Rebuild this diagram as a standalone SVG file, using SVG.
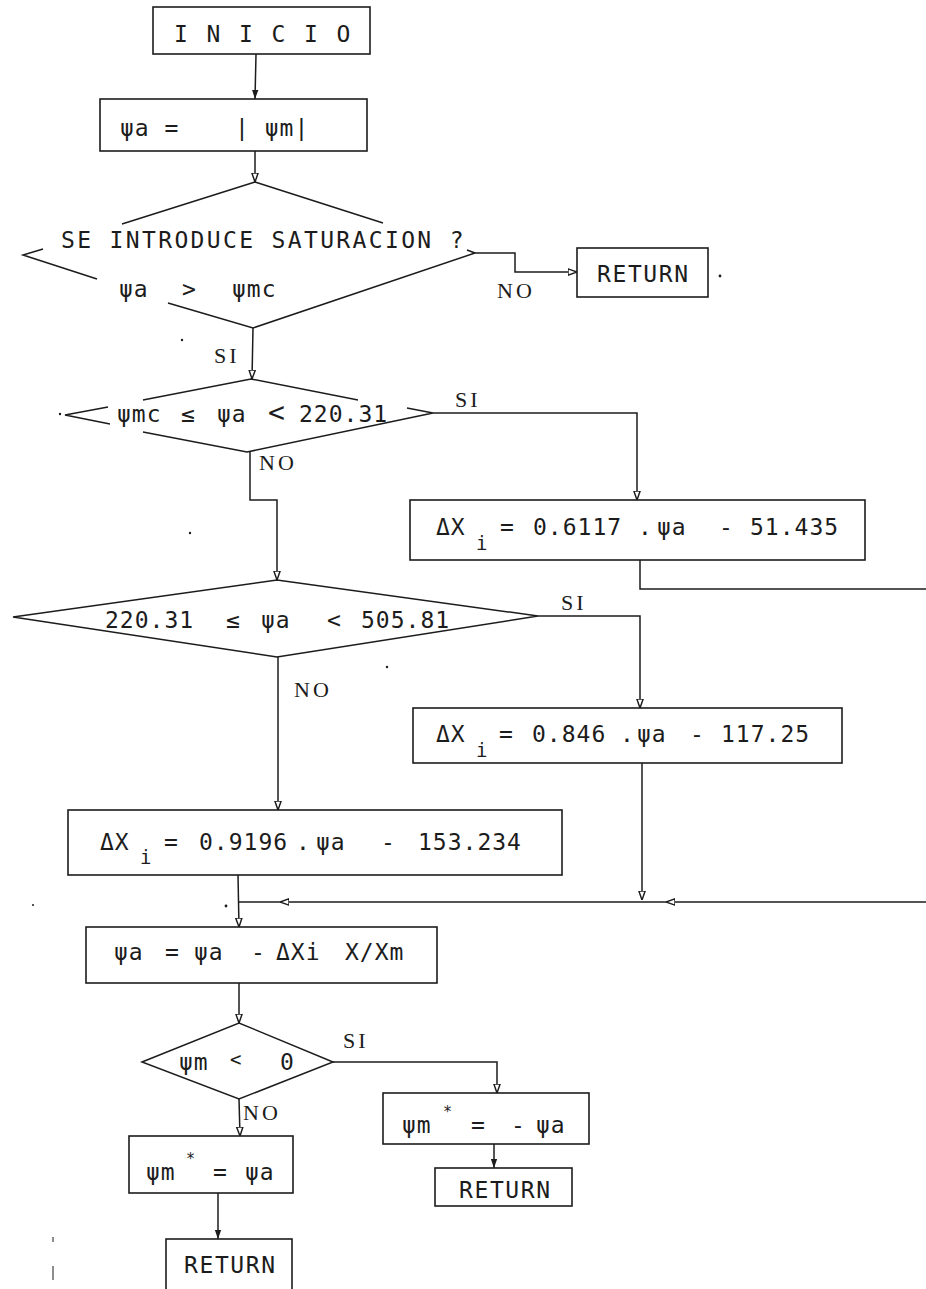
<svg xmlns="http://www.w3.org/2000/svg" width="926" height="1289" viewBox="0 0 926 1289">
<style>
.t{font-family:"DejaVu Sans Mono","Liberation Mono",monospace;font-size:23px;fill:#1c1c1c;letter-spacing:1px}
.s{font-size:19px}
.lb{font-family:"Liberation Serif","DejaVu Serif",serif;font-size:22px;fill:#1c1c1c;letter-spacing:3px}
.bx{fill:none;stroke:#1c1c1c;stroke-width:1.6}
.ln{fill:none;stroke:#1c1c1c;stroke-width:1.5}
.ar{marker-end:url(#a)}
.arf{marker-end:url(#af)}
.dot{fill:#1c1c1c}
</style>
<defs>
<marker id="a" viewBox="0 0 10 10" refX="10" refY="5" markerWidth="9" markerHeight="9" orient="auto" markerUnits="userSpaceOnUse"><path d="M0,1.5 L10,5 L0,8.5 Z" fill="#fff" stroke="#1c1c1c" stroke-width="1.6"/></marker>
<marker id="af" viewBox="0 0 10 10" refX="10" refY="5" markerWidth="9" markerHeight="9" orient="auto" markerUnits="userSpaceOnUse"><path d="M0,1.5 L10,5 L0,8.5 Z" fill="#1c1c1c"/></marker>
</defs>
<rect width="926" height="1289" fill="#fff"/>

<g id="connectors">
<path class="ln arf" d="M256,54 L255,99"/>
<path class="ln ar" d="M255,151 L255,182"/>
<path class="ln ar" d="M475,253 L515,253 L515,272 L577,272"/>
<path class="ln ar" d="M253,328 L252,379"/>
<path class="ln ar" d="M433,413 L637,413 L637,500"/>
<path class="ln ar" d="M250,452 L250,500 L277,500 L277,580"/>
<path class="ln ar" d="M538,616 L640,616 L640,708"/>
<path class="ln ar" d="M278,657 L278,810"/>
<path class="ln" d="M640,560 L640,589 L926,589"/>
<path class="ln ar" d="M642,763 L642,900"/>
<path class="ln ar" d="M926,902 L666,902"/>
<path class="ln ar" d="M666,902 L280,902"/>
<path class="ln" d="M280,902 L239,902"/>
<path class="ln ar" d="M238,875 L239,927"/>
<path class="ln ar" d="M239,983 L239,1023"/>
<path class="ln ar" d="M333,1062 L497,1062 L497,1093"/>
<path class="ln ar" d="M239,1099 L240,1136"/>
<path class="ln arf" d="M218,1193 L218,1239"/>
<path class="ln arf" d="M494,1144 L494,1168"/>
<text class="lb" x="497" y="298">NO</text>
<text class="lb" x="214" y="363">SI</text>
<text class="lb" x="455" y="407">SI</text>
<text class="lb" x="259" y="470">NO</text>
<text class="lb" x="561" y="610">SI</text>
<text class="lb" x="294" y="697">NO</text>
<text class="lb" x="343" y="1048">SI</text>
<text class="lb" x="243" y="1120">NO</text>
</g>

<g id="inicio">
<rect class="bx" x="153" y="7" width="217" height="47"/>
<text class="t" x="174" y="42" style="letter-spacing:2.4px">I N I C I O</text>
</g>

<g id="assign-abs">
<rect class="bx" x="100" y="99" width="267" height="52"/>
<text class="t" y="136"><tspan x="120">ψa = </tspan><tspan x="235">| ψm|</tspan></text>
</g>

<g id="dec-saturacion">
<path class="ln" d="M255,182 L122,224 M43,249 L23,255 L97,279 M168,303 L253,328 L475,253 M255,182 L383,223 M467,250 L475,253"/>
<text class="t" x="61" y="248" style="letter-spacing:2.35px">SE INTRODUCE SATURACION ?</text>
<text class="t" y="297"><tspan x="119">ψa </tspan><tspan x="182">&gt; </tspan><tspan x="232">ψmc</tspan></text>
</g>

<g id="return-1">
<rect class="bx" x="577" y="248" width="131" height="49"/>
<text class="t" x="597" y="282" style="letter-spacing:1.6px">RETURN</text>
</g>

<g id="dec-range-1">
<path class="ln" d="M108,407 L65,415 L110,424 M143,432 L247,452 L433,413 L407,408 M358,400 L251,379 L143,400"/>
<text class="t" y="422"><tspan x="117">ψmc </tspan><tspan x="181">≤ </tspan><tspan x="217">ψa </tspan><tspan x="268" style="font-size:28px">&lt;</tspan><tspan x="299">220.31</tspan></text>
</g>

<g id="dx-1">
<rect class="bx" x="410" y="500" width="455" height="60"/>
<text class="t" y="535"><tspan x="436">ΔX</tspan><tspan class="s" x="476" y="550">i</tspan><tspan x="500" y="535">= </tspan><tspan x="533">0.6117</tspan><tspan x="638">.</tspan><tspan x="657">ψa </tspan><tspan x="719">- </tspan><tspan x="750">51.435</tspan></text>
</g>

<g id="dec-range-2">
<polygon class="ln" points="13,617 277,580 538,616 277,657"/>
<text class="t" y="628"><tspan x="105">220.31 </tspan><tspan x="226">≤ </tspan><tspan x="261">ψa </tspan><tspan x="327">&lt; </tspan><tspan x="361">505.81</tspan></text>
</g>

<g id="dx-2">
<rect class="bx" x="413" y="708" width="429" height="55"/>
<text class="t" y="742"><tspan x="436">ΔX</tspan><tspan class="s" x="476" y="757">i</tspan><tspan x="499" y="742">= </tspan><tspan x="532">0.846</tspan><tspan x="620">.</tspan><tspan x="637">ψa </tspan><tspan x="690">- </tspan><tspan x="721">117.25</tspan></text>
</g>

<g id="dx-3">
<rect class="bx" x="68" y="810" width="494" height="65"/>
<text class="t" y="850"><tspan x="100">ΔX</tspan><tspan class="s" x="140" y="864">i</tspan><tspan x="164" y="850">= </tspan><tspan x="199">0.9196</tspan><tspan x="296">.</tspan><tspan x="316">ψa </tspan><tspan x="381">- </tspan><tspan x="418">153.234</tspan></text>
</g>

<g id="update-psi">
<rect class="bx" x="86" y="927" width="351" height="56"/>
<text class="t" y="960"><tspan x="114">ψa </tspan><tspan x="165">=</tspan><tspan x="194">ψa </tspan><tspan x="251">-</tspan><tspan x="276">ΔXi </tspan><tspan x="345">X/Xm</tspan></text>
</g>

<g id="dec-sign">
<polygon class="ln" points="142,1062 239,1023 333,1062 239,1099"/>
<text class="t" y="1070"><tspan x="179">ψm </tspan><tspan x="230" y="1066" style="font-size:19px">&lt; </tspan><tspan x="280" y="1070">0</tspan></text>
</g>

<g id="assign-pos">
<rect class="bx" x="129" y="1136" width="164" height="57"/>
<text class="t" y="1180"><tspan x="146">ψm</tspan><tspan class="s" x="186" y="1164" style="font-size:15px">* </tspan><tspan x="213" y="1180">= </tspan><tspan x="245">ψa</tspan></text>
</g>

<g id="assign-neg">
<rect class="bx" x="383" y="1093" width="206" height="51"/>
<text class="t" y="1133"><tspan x="402">ψm</tspan><tspan class="s" x="443" y="1117" style="font-size:15px">* </tspan><tspan x="471" y="1133">= </tspan><tspan x="511">-</tspan><tspan x="536">ψa</tspan></text>
</g>

<g id="return-2">
<rect class="bx" x="435" y="1168" width="137" height="38"/>
<text class="t" x="459" y="1198" style="letter-spacing:1.6px">RETURN</text>
</g>

<g id="return-3">
<rect class="bx" x="166" y="1239" width="126" height="60"/>
<text class="t" x="184" y="1273" style="letter-spacing:1.6px">RETURN</text>
</g>

<g id="specks">
<circle class="dot" cx="720" cy="276" r="1.4"/>
<circle class="dot" cx="182" cy="340" r="1.2"/>
<circle class="dot" cx="60" cy="414" r="1.2"/>
<circle class="dot" cx="190" cy="533" r="1.2"/>
<circle class="dot" cx="387" cy="667" r="1.2"/>
<circle class="dot" cx="226" cy="906" r="1.4"/>
<circle class="dot" cx="33" cy="905" r="1"/>
<path class="ln" d="M53,1237 L53,1242 M53,1266 L53,1280" style="stroke-width:1"/>
</g>
</svg>
